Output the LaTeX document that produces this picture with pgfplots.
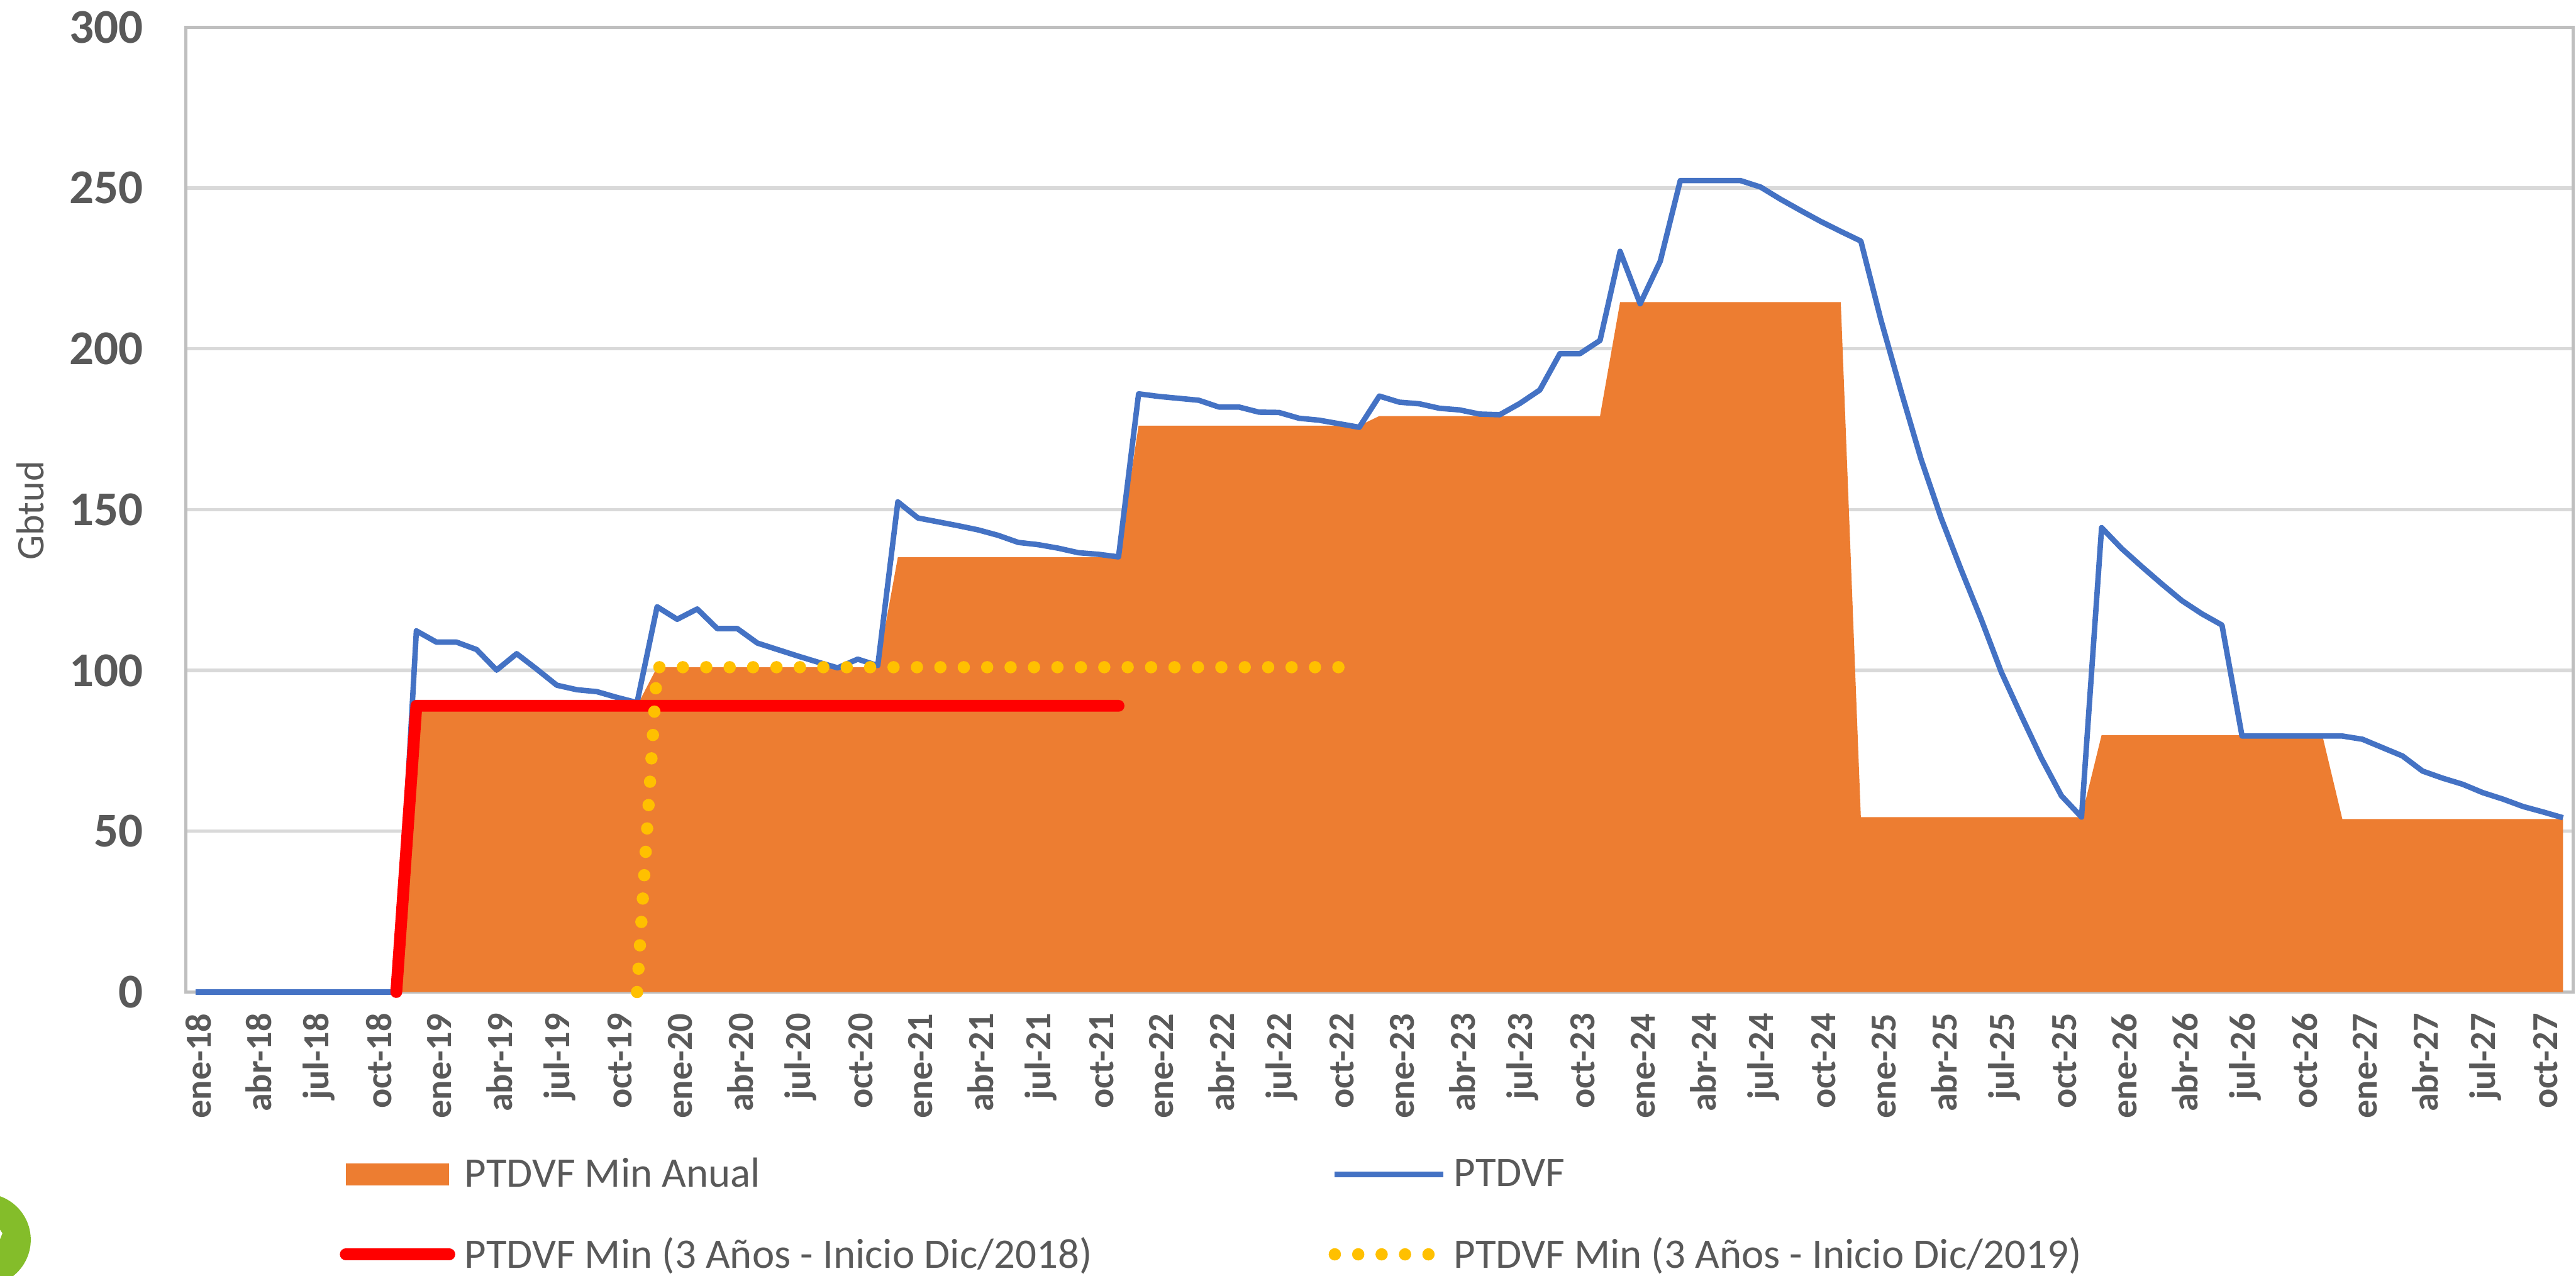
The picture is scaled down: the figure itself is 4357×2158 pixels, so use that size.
\documentclass[border=0pt]{standalone}
\usepackage{fontspec}
\setmainfont{Carlito}
\usepackage{pgfplots}
\usepackage{pgfplotstable}
\pgfplotsset{compat=1.18}
\definecolor{cOrange}{HTML}{ED7D31}
\definecolor{cBlue}{HTML}{4472C4}
\definecolor{cYellow}{HTML}{FFC000}
\definecolor{cGrid}{HTML}{D9D9D9}
\definecolor{cSpine}{HTML}{BFBFBF}
\definecolor{cText}{HTML}{595959}
\definecolor{cGreen}{HTML}{84BD2A}
\pgfplotstableread{
i v
0 0
1 0
2 0
3 0
4 0
5 0
6 0
7 0
8 0
9 0
10 0
11 89
22 89
23 101
34 101
35 135.2
46 135.2
47 176.1
58 176.1
59 179.1
70 179.1
71 214.5
82 214.5
83 54.4
94 54.4
95 79.9
106 79.9
107 53.8
118 53.8
}\tblarea
\pgfplotstableread{
i v
0 0
1 0
2 0
3 0
4 0
5 0
6 0
7 0
8 0
9 0
10 0
11 112.3
12 108.8
13 108.8
14 106.5
15 100.1
16 105.2
17 100.4
18 95.4
19 94
20 93.4
21 91.6
22 90
23 119.8
24 115.9
25 119.1
26 113
27 113
28 108.5
29 106.5
30 104.5
31 102.6
32 100.8
33 103.5
34 101.5
35 152.4
36 147.4
37 146.2
38 145
39 143.7
40 142
41 139.8
42 139.1
43 138
44 136.6
45 136.1
46 135.3
47 186
48 185.2
49 184.6
50 184
51 181.9
52 181.9
53 180.3
54 180.2
55 178.4
56 177.8
57 176.7
58 175.6
59 185.3
60 183.4
61 182.9
62 181.5
63 181
64 179.7
65 179.5
66 183
67 187.2
68 198.5
69 198.5
70 202.6
71 230.3
72 214
73 227.2
74 252.3
75 252.3
76 252.3
77 252.3
78 250.3
79 246.5
80 243
81 239.6
82 236.5
83 233.5
84 209
85 186.9
86 165.7
87 147.4
88 131.3
89 115.9
90 99.5
91 85.9
92 72.7
93 61
94 54.4
95 144.4
96 137.9
97 132.3
98 126.9
99 121.7
100 117.6
101 114.1
102 79.6
103 79.6
104 79.6
105 79.6
106 79.6
107 79.6
108 78.6
109 76
110 73.4
111 68.7
112 66.5
113 64.6
114 62
115 60
116 57.7
117 56
118 54.2
}\tblblue
\begin{document}
\begin{tikzpicture}[x=0.25pt,y=0.25pt]
\path[use as bounding box] (0,0) rectangle (4357,2158);
\begin{scope}
\clip (0,0) rectangle (4357,2158);
\fill[cGreen] (-26,61) circle (78);
\fill[white] (0,62) -- (4,72) -- (0,78) -- cycle;
\end{scope}
\begin{axis}[
  at={(314pt*0.25,480pt*0.25)},anchor=south west,
  scale only axis,width=1009.5pt,height=408pt,
  xmin=-0.5,xmax=118.5,ymin=0,ymax=300,
  clip=false,
  axis line style={cSpine,line width=1.25pt},
  ytick={0,50,...,300},
  ymajorgrids,grid style={cGrid,line width=1.4pt},
  major tick length=0pt,
  xtick={0,3,...,117},
  xticklabels={ene-18,abr-18,jul-18,oct-18,ene-19,abr-19,jul-19,oct-19,ene-20,abr-20,jul-20,oct-20,ene-21,abr-21,jul-21,oct-21,ene-22,abr-22,jul-22,oct-22,ene-23,abr-23,jul-23,oct-23,ene-24,abr-24,jul-24,oct-24,ene-25,abr-25,jul-25,oct-25,ene-26,abr-26,jul-26,oct-26,ene-27,abr-27,jul-27,oct-27},
  xticklabel style={rotate=90,anchor=east,font=\fontsize{15.5}{15.5}\selectfont\bfseries,text=cText,yshift=-1.2pt,xshift=-5.5pt},
  yticklabel style={font=\fontsize{20.5}{20.5}\selectfont\bfseries,text=cText,xshift=-14.5pt},
  /pgf/number format/assume math mode=true,
  legend columns=2,
  legend cell align=left,
  legend style={at={(0.0,0)},anchor=north west,xshift=62pt,yshift=-66pt,draw=none,fill=none,
    font=\fontsize{17.8}{17.8}\selectfont,text=cText,
    /tikz/every even column/.style={column sep=98pt},
    row sep=15.6pt},
]
\addplot[fill=cOrange,draw=none,
  legend image code/.code={\fill[cOrange,draw=none] (0pt,-4.75pt) rectangle (43.8pt,4.75pt);\path (45.8pt,0pt);}]
  table[x=i,y=v]{\tblarea} \closedcycle;
\addlegendentry{PTDVF Min Anual}
\addplot[cBlue,line width=2.3pt,line join=round,
  legend image code/.code={\draw[cBlue,line width=2.4pt] (0pt,0pt) -- (45.8pt,0pt);}]
  table[x=i,y=v]{\tblblue};
\addlegendentry{PTDVF}
\addplot[red,line width=5pt,line join=round,line cap=round,
  legend image code/.code={\draw[red,line width=5pt,line cap=round] (0pt,0pt) -- (43.8pt,0pt);\path (45.8pt,0pt);}]
  coordinates {(10,0) (11,89) (46,89)};
\addlegendentry{PTDVF Min (3 Años - Inicio Dic/2018)}
\addplot[cYellow,line width=5.2pt,line cap=round,dash pattern=on 0pt off 9.9pt,
  legend image code/.code={\draw[cYellow,line width=5.2pt,line cap=round,dash pattern=on 0pt off 9.9pt] (0pt,0pt) -- (41pt,0pt);\path (45.8pt,0pt);}]
  coordinates {(22,0) (23,101) (58,101)};
\addlegendentry{PTDVF Min (3 Años - Inicio Dic/2019)}
\node[rotate=90,text=cText,font=\fontsize{16.5}{16.5}\selectfont] at (axis description cs:-0.065,0.499) {Gbtud};
\end{axis}
\end{tikzpicture}
\end{document}
